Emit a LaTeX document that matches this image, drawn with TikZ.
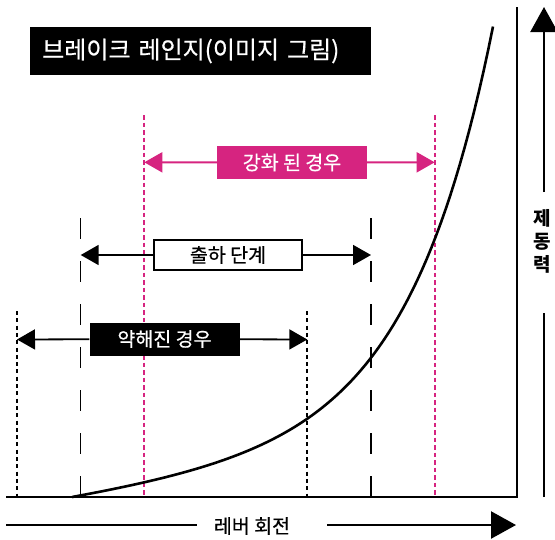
\documentclass[tikz,border=0pt]{standalone}
\usepackage{xcolor}
\usepackage{tikz}
\usepackage{fontspec}
\setmainfont{Noto Sans CJK KR}
\newfontfamily\krmed{Noto Sans CJK KR}[FakeBold=0.6]
\usetikzlibrary{arrows.meta}
\definecolor{colp}{RGB}{214,36,128}
\tikzstyle{tagbox}=[minimum width=150pt,minimum height=33pt,inner sep=0pt,font=\krmed\fontsize{19.5}{21}\selectfont]
\tikzstyle{guide}=[line width=1.3pt,dash pattern=on 21pt off 22pt]
\tikzstyle{dotguide}=[line width=2.3pt,dash pattern=on 4pt off 3.3pt]
\tikzstyle{pinkguide}=[colp,line width=2pt,dash pattern=on 4.5pt off 3pt]
\tikzstyle{midarrow}=[line width=1.8pt,-{Triangle[length=18pt,width=20pt]}]
\tikzstyle{bigarrow}=[line width=2.4pt,-{Triangle[length=25pt,width=27pt]}]

\begin{document}
\begin{tikzpicture}[x=1pt,y=-1pt]
\useasboundingbox (0,0) rectangle (555,539);

\draw[guide] (80.7,218) -- (80.7,497);
\draw[guide] (371,218) -- (371,497);
\draw[dotguide] (17,311) -- (17,497);
\draw[dotguide] (307.3,311) -- (307.3,497);
\draw[pinkguide] (144.3,115) -- (144.3,497);
\draw[pinkguide] (434.7,115) -- (434.7,497);

\draw[line width=2.6pt] (6,497) -- (517,497) -- (517,7);
\draw[line width=2.6pt] plot[domain=0:421,samples=90] ({72+\x},{497-0.15*\x-2.86*(exp(0.0118*\x)-1)});

\node[fill=black,text=white,anchor=west,minimum height=48pt,text width=317pt,inner xsep=12pt,align=left,font=\krmed\fontsize{24}{26}\selectfont] (title) at (30,51) {브레이크 레인지(이미지 그림)};

\coordinate (sL) at (144.3,162.3);
\coordinate (sR) at (434.7,162.3);
\coordinate (hL) at (80.7,255);
\coordinate (hR) at (371,255);
\coordinate (wL) at (17,339.5);
\coordinate (wR) at (307.3,339.5);

\node[tagbox,fill=colp,text=white] (strong) at (292,162.5) {강화 된 경우};
\node[tagbox,draw,line width=2pt,fill=white,minimum width=148pt,minimum height=30pt] (ship) at (228,255) {출하 단계};
\node[tagbox,fill=black,text=white] (weak) at (164.5,339) {약해진 경우};

\draw[midarrow,colp,line width=2pt] (strong) -- (sL);
\draw[midarrow,colp,line width=2pt] (strong) -- (sR);
\draw[midarrow] (ship) -- (hL);
\draw[midarrow] (ship) -- (hR);
\draw[midarrow] (weak) -- (wL);
\draw[midarrow] (weak) -- (wR);

\node[font=\krmed\fontsize{19.5}{21}\selectfont] (lever) at (252,526) {레버 회전};
\coordinate (xa) at (6,525);
\coordinate (xb) at (197,525);
\coordinate (xc) at (327,525);
\coordinate (xd) at (516,525);
\draw[line width=2.4pt] (xa) -- (xb);
\draw[bigarrow] (xc) -- (xd);

\node[align=center,font=\bfseries\fontsize{19}{23}\selectfont] (force) at (542,241) {제\\동\\력};
\coordinate (ya) at (544,497);
\coordinate (yb) at (544,313);
\coordinate (yc) at (544,192);
\coordinate (yd) at (544,7);
\draw[line width=2.4pt] (ya) -- (yb);
\draw[bigarrow] (yc) -- (yd);
\end{tikzpicture}
\end{document}
